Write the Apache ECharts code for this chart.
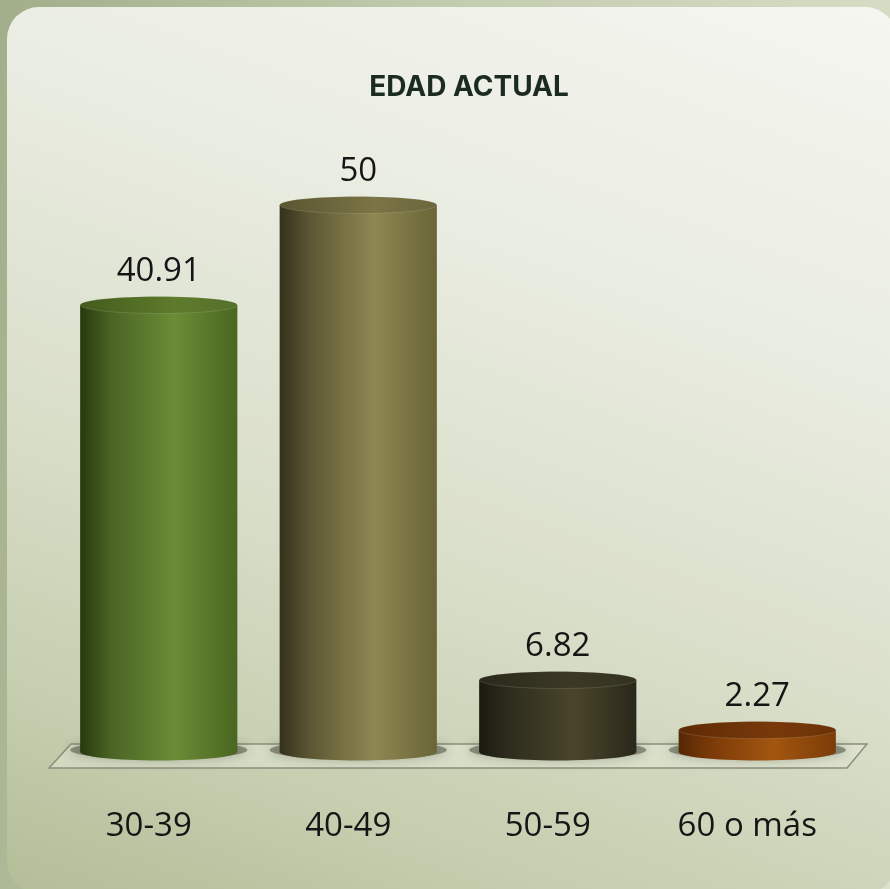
<!DOCTYPE html>
<html>
<head>
<meta charset="utf-8">
<script src="https://cdn.jsdelivr.net/npm/echarts@6/dist/echarts.min.js"></script>
<style>
html,body{margin:0;padding:0;width:890px;height:889px;overflow:hidden;}
body{background:linear-gradient(100deg,#a2ae8a 0%,#c3cdb0 45%,#dce2cb 100%);position:relative;}
#panel{position:absolute;left:7px;top:7px;width:890px;height:886px;border-radius:32px;
background:linear-gradient(200deg,#f5f6f0 0%,#eaede2 30%,#d9dec9 60%,#c6cfb0 82%,#b3bd97 100%);}
#chart{position:absolute;left:0;top:0;width:890px;height:889px;}
</style>
</head>
<body>
<div id="panel"></div>
<div id="chart"></div>
<script>
const titleText = 'EDAD ACTUAL';
const categories = ['30-39', '40-49', '50-59', '60 o más'];
const values = [40.91, 50, 6.82, 2.27];
const valueLabels = ['40.91', '50', '6.82', '2.27'];

const palettes = [
  { body: ['#28390f', '#4a6524', '#6c8c36', '#4a6621'], top: ['#435b1c', '#5e7b2c', '#55702a'] },
  { body: ['#34301b', '#5d5834', '#8e8752', '#6a6538'], top: ['#5a5532', '#7a7446', '#6b663c'] },
  { body: ['#1a1a11', '#2e2d1e', '#4a452a', '#29281b'], top: ['#29291b', '#3c3a26', '#333220'] },
  { body: ['#552705', '#7a3a08', '#a3560f', '#7b3c09'], top: ['#5e2a05', '#78390a', '#6b3207'] }
];

function hGrad(c) {
  return new echarts.graphic.LinearGradient(0, 0, 1, 0, [
    { offset: 0, color: c[0] },
    { offset: 0.2, color: c[1] },
    { offset: 0.6, color: c[2] },
    { offset: 1, color: c[3] }
  ]);
}
function topGrad(c) {
  return new echarts.graphic.LinearGradient(0, 0, 1, 0, [
    { offset: 0, color: c[0] },
    { offset: 0.6, color: c[1] },
    { offset: 1, color: c[2] }
  ]);
}

function renderCylinder(params, api) {
  const i = params.dataIndex;
  const top = api.coord([i, api.value(1)]);
  const base = api.coord([i, 0]);
  const band = api.size([1, 0])[0];
  const hw = band * 0.394;
  const ry = 8.5;
  const cx = top[0];
  const by = base[1] - 3;
  const ty = top[1];
  const p = palettes[i];
  return {
    type: 'group',
    children: [
      {
        type: 'ellipse',
        shape: { cx: cx, cy: by - 2, rx: hw + 10, ry: ry + 1 },
        style: { fill: 'rgba(50,55,40,0.45)', shadowBlur: 12, shadowColor: 'rgba(50,55,40,0.7)' },
        z2: 0
      },
      {
        type: 'ellipse',
        shape: { cx: cx, cy: by, rx: hw, ry: ry },
        style: { fill: hGrad(p.body) },
        z2: 1
      },
      {
        type: 'rect',
        shape: { x: cx - hw, y: ty, width: hw * 2, height: by - ty },
        style: { fill: hGrad(p.body) },
        z2: 2
      },
      {
        type: 'ellipse',
        shape: { cx: cx, cy: ty, rx: hw, ry: ry },
        style: { fill: topGrad(p.top), stroke: 'rgba(255,255,255,0.12)', lineWidth: 1 },
        z2: 3
      },
      {
        type: 'text',
        x: cx,
        y: ty - ry - 25,
        style: {
          text: valueLabels[i],
          align: 'center',
          verticalAlign: 'middle',
          fontFamily: 'Open Sans',
          fontSize: 33,
          fill: '#151515'
        },
        z2: 4
      }
    ]
  };
}

function renderFloor(params, api) {
  const cs = params.coordSys;
  const y0 = api.coord([0, 0])[1];
  const L = cs.x, R = cs.x + cs.width;
  return {
    type: 'polygon',
    shape: { points: [[L + 12, y0 - 11], [R + 10, y0 - 11], [R - 10, y0 + 13], [L - 10, y0 + 13]] },
    style: { fill: 'rgba(225,229,212,0.55)', stroke: '#8a8f7e', lineWidth: 1.5 }
  };
}

const chart = echarts.init(document.getElementById('chart'), null, { renderer: 'canvas' });
chart.setOption({
  backgroundColor: 'transparent',
  animation: false,
  title: {
    text: titleText,
    left: 464,
    textAlign: 'center',
    top: 69,
    textStyle: { fontFamily: 'Inter', fontWeight: 'bold', fontSize: 28, color: '#1c2b22' }
  },
  grid: { left: 59, right: 33, top: 95, bottom: 134 },
  xAxis: {
    type: 'category',
    data: categories,
    axisLine: { show: false },
    axisTick: { show: false },
    axisLabel: {
      margin: 55,
      fontFamily: 'Open Sans',
      fontSize: 33,
      color: '#151515',
      padding: [0, 20, 0, 0]
    }
  },
  yAxis: { type: 'value', min: 0, max: 60, show: false },
  series: [
    {
      type: 'custom',
      z: 1,
      data: [[0, 0]],
      renderItem: renderFloor,
      silent: true
    },
    {
      type: 'custom',
      z: 2,
      data: values.map((v, i) => [i, v]),
      renderItem: renderCylinder
    }
  ]
});
</script>
</body>
</html>
